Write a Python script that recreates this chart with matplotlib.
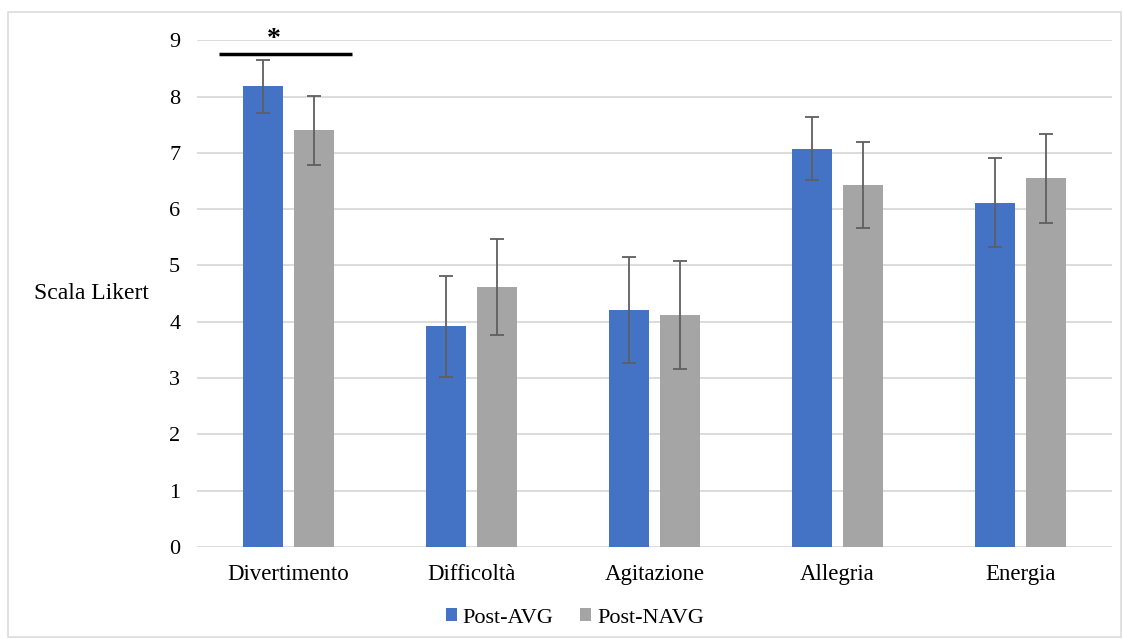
import numpy as np
import matplotlib
matplotlib.use("Agg")
import matplotlib.pyplot as plt
from matplotlib.patches import Rectangle

plt.rcParams['font.family'] = ['Liberation Serif', 'DejaVu Serif']

# data
categories = ['Divertimento', 'Difficoltà', 'Agitazione', 'Allegria', 'Energia']
series_names = ['Post-AVG', 'Post-NAVG']
avg_means = [8.18, 3.92, 4.21, 7.07, 6.11]
avg_errs = [0.47, 0.90, 0.94, 0.56, 0.79]
navg_means = [7.40, 4.62, 4.12, 6.43, 6.55]
navg_errs = [0.61, 0.85, 0.96, 0.77, 0.79]
sig_level = 8.76

blue = '#4472c4'
gray = '#a5a5a5'
err_color = '#5f5f5f'

fig = plt.figure(figsize=(11.23, 6.39), dpi=100)
ax = fig.add_axes([0.1754, 0.144, 0.8146, 0.793])

x = np.arange(len(categories))
width = 0.22
offset = 0.14

ax.bar(x - offset, avg_means, width=width, color=blue, label=series_names[0], zorder=2)
ax.bar(x + offset, navg_means, width=width, color=gray, label=series_names[1], zorder=2)
ax.errorbar(x - offset, avg_means, yerr=avg_errs, fmt='none', ecolor=err_color,
            elinewidth=1.3, capsize=5, capthick=1.3, zorder=3)
ax.errorbar(x + offset, navg_means, yerr=navg_errs, fmt='none', ecolor=err_color,
            elinewidth=1.3, capsize=5, capthick=1.3, zorder=3)

# significance marker over Divertimento
ax.plot([x[0] - 0.38, x[0] + 0.35], [sig_level, sig_level], color='black', lw=2.5,
        solid_capstyle='butt', clip_on=False, zorder=4)
ax.text(x[0] - 0.08, sig_level + 0.03, '*', ha='center', va='bottom', fontsize=20,
        fontweight='bold', clip_on=False)

ax.set_xlim(-0.5, len(categories) - 0.5)
ax.set_ylim(0, 9)
ax.set_yticks(range(0, 10))
ax.set_xticks(x)
ax.set_xticklabels(categories, fontsize=16.5)
ax.tick_params(axis='y', labelsize=16, length=0, pad=12)
ax.tick_params(axis='x', length=0, pad=12)
ax.yaxis.grid(True, color='#d9d9d9', lw=1.3, zorder=0)
ax.set_axisbelow(True)
for s in ax.spines.values():
    s.set_visible(False)

ax.set_ylabel('Scala Likert', fontsize=17, rotation=0, ha='center', va='center')
ax.yaxis.set_label_coords(-0.115, 0.5)

fig.legend(*ax.get_legend_handles_labels(), loc='center',
           bbox_to_anchor=(0.512, 0.033), ncol=2, frameon=False,
           fontsize=16, handlelength=0.5, handleheight=0.5, handletextpad=0.25,
           columnspacing=1.2)

fig.patches.append(Rectangle((8 / 1123, 0.003), 1 - 10 / 1123, 1 - 12 / 639 - 0.003,
                             transform=fig.transFigure, fill=False,
                             edgecolor='#dcdcdc', lw=1.2))

fig.savefig('out.png', dpi=100)
